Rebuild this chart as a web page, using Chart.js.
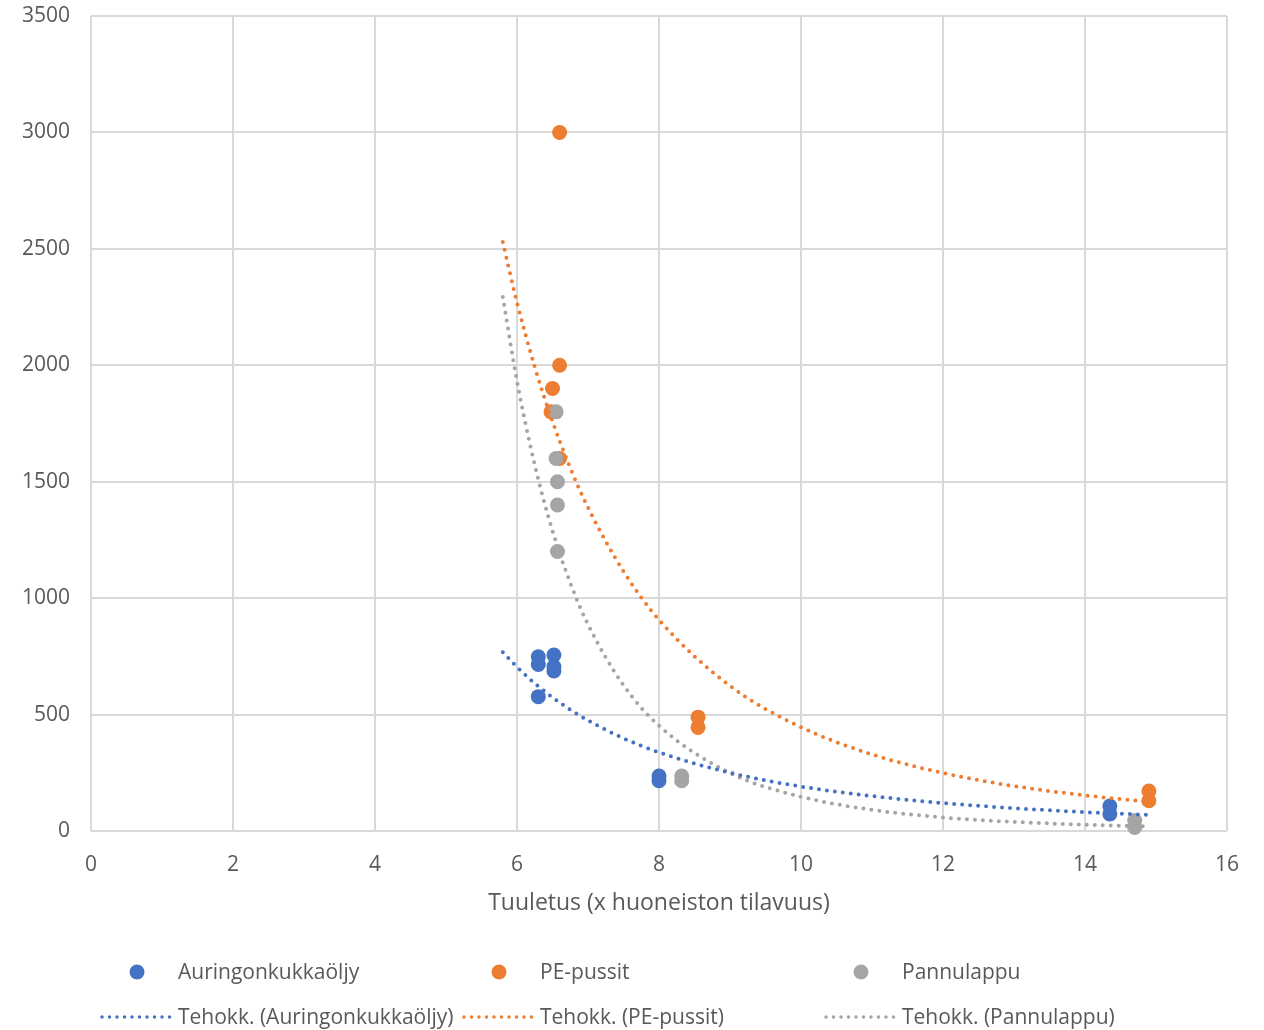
<!DOCTYPE html>
<html>
<head>
<meta charset="utf-8">
<script src="https://cdn.jsdelivr.net/npm/chart.js@4"></script>
<style>
  html, body { margin: 0; padding: 0; background: #fff; }
  #wrap { width: 1264px; height: 1030px; }
</style>
</head>
<body>
<div id="wrap"><canvas id="chart" width="1264" height="1030"></canvas></div>
<script>
// measured points
const blueX = [6.3, 6.3, 6.3, 6.52, 6.52, 6.52, 8.0, 8.0, 14.35, 14.35];
const blueY = [748, 715, 577, 756, 705, 687, 236, 216, 107, 73];
const orangeX = [6.6, 6.6, 6.5, 6.48, 6.6, 8.55, 8.55, 14.9, 14.9];
const orangeY = [3000, 2000, 1900, 1800, 1600, 489, 445, 172, 130];
const grayX = [6.55, 6.55, 6.57, 6.57, 6.57, 8.32, 8.32, 14.7, 14.7];
const grayY = [1800, 1600, 1500, 1400, 1200, 236, 216, 45, 15];

// trendlines
const trendX = [5.8, 6, 6.25, 6.5, 6.75, 7, 7.5, 8, 9, 10, 11, 12, 13, 14, 14.9];
const blueTrend = [768, 704, 634, 574, 521, 475, 398, 338, 250, 191, 150, 120, 98, 81, 69];
const orangeTrend = [2529, 2270, 1993, 1759, 1559, 1389, 1115, 907, 623, 446, 329, 249, 193, 153, 125];
const grayTrend = [2293, 1932, 1572, 1289, 1066, 887, 626, 452, 249, 147, 91, 58, 39, 27, 20];

const seriesNames = ["Auringonkukkaöljy", "PE-pussit", "Pannulappu"];
const trendPrefix = "Tehokk.";
const xTitle = "Tuuletus (x huoneiston tilavuus)";

const colors = ["#4472C4", "#ED7D31", "#A5A5A5"];
const textColor = "#595959";
const fontFamily = "'Open Sans', Lato, sans-serif";

const pts = (xs, ys) => xs.map((x, i) => ({ x, y: ys[i] }));

const pointSets = [pts(blueX, blueY), pts(orangeX, orangeY), pts(grayX, grayY)];
const trendSets = [pts(trendX, blueTrend), pts(trendX, orangeTrend), pts(trendX, grayTrend)];

const datasets = [];
seriesNames.forEach((name, i) => {
    datasets.push({
        label: name,
        data: pointSets[i],
        showLine: false,
        pointRadius: 7.5,
        pointHoverRadius: 7.5,
        pointBackgroundColor: colors[i],
        pointBorderWidth: 0,
        backgroundColor: colors[i],
        borderColor: colors[i],
        order: [4, 5, 3][i],
        clip: false,
    });
});
seriesNames.forEach((name, i) => {
    datasets.push({
        label: `${trendPrefix} (${name})`,
        data: trendSets[i],
        showLine: true,
        pointRadius: 0,
        borderColor: colors[i],
        backgroundColor: colors[i],
        borderWidth: 4,
        borderDash: [0, 8],
        borderCapStyle: "round",
        cubicInterpolationMode: "monotone",
        fill: false,
        order: [1, 0, 2][i],
        isTrend: true,
    });
});

// legend below the axis title, 3 columns x 2 rows
const legendPlugin = {
    id: "bottomLegend",
    afterDraw(chart) {
        const ctx = chart.ctx;
        const colW = 362;
        const textX0 = 178;
        const rowY = [973, 1018];
        ctx.save();
        ctx.font = `21px ${fontFamily}`;
        ctx.textBaseline = "middle";
        chart.data.datasets.forEach((ds, i) => {
            const col = i % 3;
            const row = ds.isTrend ? 1 : 0;
            const tx = textX0 + col * colW;
            const y = rowY[row];
            if (row === 0) {
                ctx.beginPath();
                ctx.fillStyle = ds.backgroundColor;
                ctx.arc(tx - 41, y - 1, 7.5, 0, Math.PI * 2);
                ctx.fill();
            } else {
                ctx.beginPath();
                ctx.strokeStyle = ds.borderColor;
                ctx.lineWidth = 3.5;
                ctx.lineCap = "round";
                ctx.setLineDash([0, 7.5]);
                ctx.moveTo(tx - 76, y - 1);
                ctx.lineTo(tx - 5, y - 1);
                ctx.stroke();
                ctx.setLineDash([]);
            }
            ctx.fillStyle = textColor;
            ctx.fillText(ds.label, tx, y);
        });
        ctx.restore();
    },
};

new Chart(document.getElementById("chart"), {
    type: "scatter",
    data: { datasets },
    plugins: [legendPlugin],
    options: {
        responsive: false,
        animation: false,
        events: [],
        layout: { padding: { left: 0, top: 16, right: 37, bottom: 113 } },
        plugins: {
            legend: { display: false },
            tooltip: { enabled: false },
        },
        scales: {
            x: {
                type: "linear",
                min: 0,
                max: 16,
                ticks: { stepSize: 2, color: textColor, padding: 21, font: { family: fontFamily, size: 21 } },
                grid: { color: "#d9d9d9", lineWidth: 2, drawTicks: false },
                border: { display: false },
                title: {
                    display: true,
                    text: xTitle,
                    color: textColor,
                    font: { family: fontFamily, size: 23 },
                    padding: 0,
                },
                afterFit: (scale) => { scale.height = 86; },
            },
            y: {
                type: "linear",
                min: 0,
                max: 3500,
                ticks: {
                    stepSize: 500,
                    color: textColor,
                    padding: 21,
                    font: { family: fontFamily, size: 21 },
                    callback: (value) => String(value),
                },
                grid: { color: "#d9d9d9", lineWidth: 2, drawTicks: false },
                border: { display: false },
                afterFit: (scale) => {
                    scale.width = 91;
                    scale.paddingTop = 0;
                    scale.paddingBottom = 0;
                },
            },
        },
    },
});
</script>
</body>
</html>
